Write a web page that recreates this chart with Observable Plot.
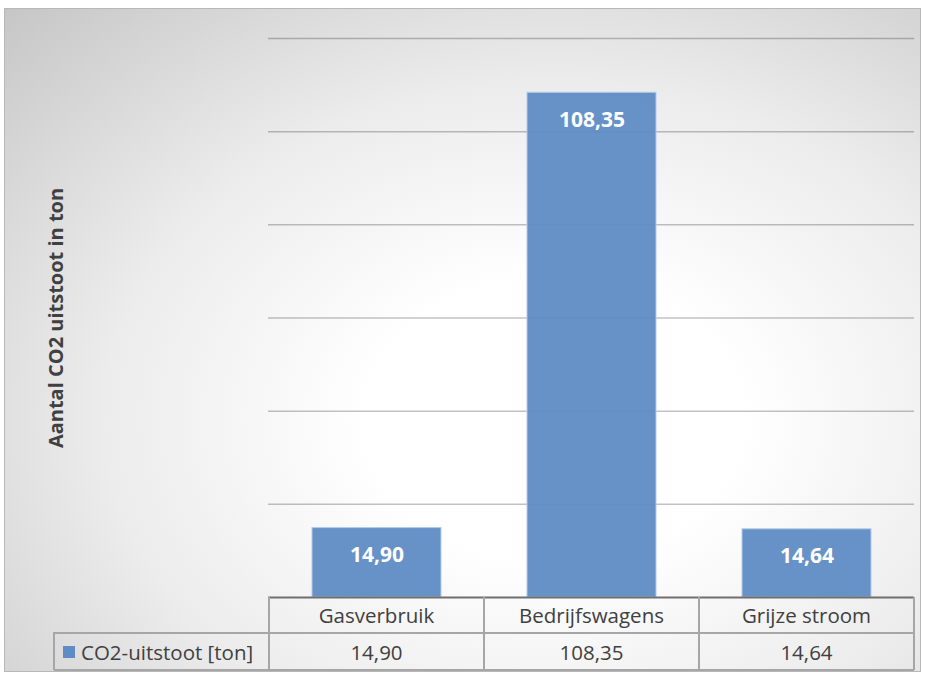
<!DOCTYPE html>
<html>
<head>
<meta charset="utf-8">
<script src="https://cdn.jsdelivr.net/npm/d3@7"></script>
<script src="https://cdn.jsdelivr.net/npm/@observablehq/plot@0.6"></script>
<style>
  html, body { margin: 0; padding: 0; background: #ffffff; }
  #wrap { position: relative; width: 932px; height: 679px; overflow: hidden; font-family: 'Open Sans', sans-serif; }
  #frame { position: absolute; left: 4px; top: 8px; width: 915px; height: 662px;
    border: 1.5px solid #b8b8b8;
    background: radial-gradient(ellipse farthest-corner at 60% 62%, #ffffff 0%, #ffffff 24%, #ececec 58%, #c6c6c6 100%); }
  #chart { position: absolute; left: 0; top: 0; }
  .ln { position: absolute; background: #a6a6a6; }
  .cell { position: absolute; display: flex; align-items: center; justify-content: center;
    font-size: 20.5px; color: #404040; white-space: nowrap; }
</style>
</head>
<body>
<div id="wrap">
  <div id="frame"></div>
  <div id="chart"></div>
  <div id="table"></div>
</div>
<script>
const categories = ["Gasverbruik", "Bedrijfswagens", "Grijze stroom"];
const values = [14.90, 108.35, 14.64];
const gridTicks = [20, 40, 60, 80, 100, 120];
const seriesName = "CO2-uitstoot [ton]";
const yTitle = "Aantal CO2 uitstoot in ton";

const data = categories.map((c, i) => ({category: c, value: values[i]}));
const fmt = v => v.toFixed(2).replace(".", ",");

const W = 932, H = 679;
const mL = 268, mR = 18, mT = 38, mB = 82;
const barColor = "#5f8cc4";

const plot = Plot.plot({
  width: W, height: H,
  marginLeft: mL, marginRight: mR, marginTop: mT, marginBottom: mB,
  style: {background: "transparent", fontFamily: "'Open Sans', sans-serif", color: "#404040", overflow: "visible"},
  x: {domain: categories, paddingInner: 0.4, paddingOuter: 0.2, axis: null},
  y: {domain: [0, 120]},
  marks: [
    Plot.ruleY(gridTicks, {stroke: "#000000", strokeOpacity: 0.24, strokeWidth: 1.5}),
    Plot.barY(data, {x: "category", y: "value", fill: barColor, fillOpacity: 0.95, stroke: "#b3cbe8", strokeWidth: 1}),
    Plot.text(data, {x: "category", y: "value", text: d => fmt(d.value), dy: 27, fill: "white", fontWeight: "bold", fontSize: 21}),
    Plot.axisY({ticks: [], tickSize: 0, label: yTitle, labelAnchor: "center", labelOffset: 220, labelArrow: "none", fontSize: 20, fontWeight: "bold", fill: "#404040"}),
    Plot.ruleY([0], {stroke: "#6f6f6f", strokeWidth: 2})
  ]
});
document.getElementById("chart").appendChild(plot);

// data table below the plot, aligned with the x band scale
const xs = plot.scale("x");
const ys = plot.scale("y");
const step = xs.step, bw = xs.bandwidth;
const colLeft = categories.map(c => xs.apply(c) - (step - bw) / 2);
const right = colLeft[colLeft.length - 1] + step;
const base = ys.apply(0);
const row1 = base, row2 = base + 36, row3 = base + 73;
const legendLeft = 54;
const tbl = document.getElementById("table");
function line(x, y, w, h, color) {
  const d = document.createElement("div");
  d.className = "ln";
  d.style.left = x + "px"; d.style.top = y + "px"; d.style.width = w + "px"; d.style.height = h + "px";
  if (color) d.style.background = color;
  tbl.appendChild(d);
}
function cell(x, y, w, h, html, extra) {
  const d = document.createElement("div");
  d.className = "cell";
  d.style.left = x + "px"; d.style.top = y + "px"; d.style.width = w + "px"; d.style.height = h + "px";
  d.innerHTML = html;
  if (extra) Object.assign(d.style, extra);
  tbl.appendChild(d);
}
line(legendLeft, row2 - 1, right - legendLeft, 2);
line(legendLeft, row3 - 1, right - legendLeft, 2);
line(legendLeft - 1, row2 - 1, 2, row3 - row2 + 1);
colLeft.forEach(x => line(x - 1, row1, 2, row3 - row1));
line(right - 1, row1, 2, row3 - row1);
categories.forEach((c, i) => {
  cell(colLeft[i], row1, step, row2 - row1, c);
  cell(colLeft[i], row2, step, row3 - row2, fmt(values[i]));
});
cell(legendLeft, row2, colLeft[0] - legendLeft, row3 - row2,
  `<span style="display:inline-block;width:12px;height:12px;background:${barColor};margin-right:6px"></span>${seriesName}`,
  {justifyContent: "flex-start", paddingLeft: "9px", boxSizing: "border-box"});
</script>
</body>
</html>
